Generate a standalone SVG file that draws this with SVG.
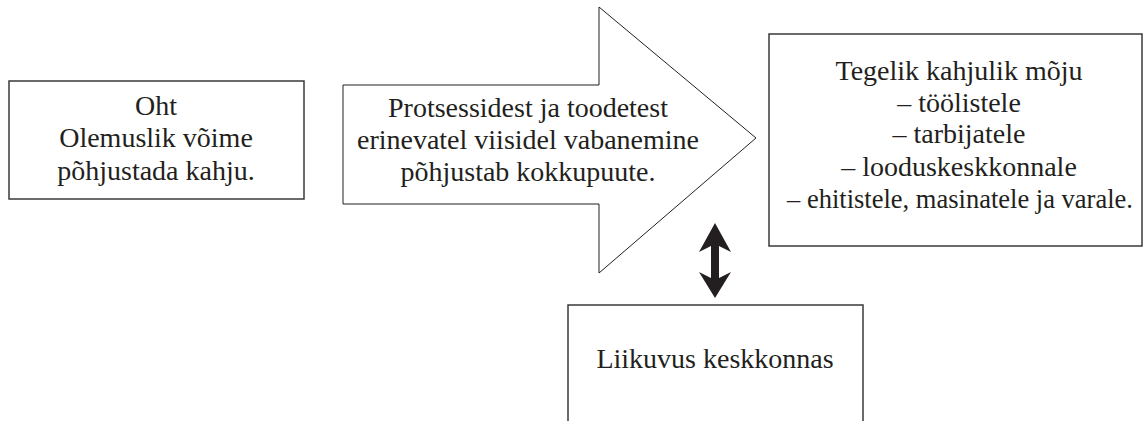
<svg xmlns="http://www.w3.org/2000/svg" width="1143" height="421" viewBox="0 0 1143 421">
<style>
.box{fill:#fff;stroke:#3a3a3a;stroke-width:1.5}
.arr{fill:#fff;stroke:#231f20;stroke-width:1}
.t{font-family:"Liberation Serif",serif;font-size:28px;fill:#231f20;text-anchor:middle}
.s{font-size:26.5px}
</style>
<rect width="1143" height="421" fill="#fff"/>
<g id="oht">
<rect class="box" x="9" y="81" width="295" height="118"/>
<text class="t" x="156" y="115">Oht</text>
<text class="t" x="156" y="147">Olemuslik võime</text>
<text class="t" x="156" y="180">põhjustada kahju.</text>
</g>
<g id="protsess">
<polygon class="arr" points="343,85 599,85 599,7 756,138 599,273 599,204 343,204"/>
<text class="t" x="528" y="117">Protsessidest ja toodetest</text>
<text class="t" x="528" y="149">erinevatel viisidel vabanemine</text>
<text class="t" x="528" y="181">põhjustab kokkupuute.</text>
</g>
<g id="moju">
<rect class="box" x="769" y="34" width="373" height="212"/>
<text class="t" x="959" y="80">Tegelik kahjulik mõju</text>
<text class="t" x="959" y="112">– töölistele</text>
<text class="t" x="959" y="143">– tarbijatele</text>
<text class="t" x="959" y="176">– looduskeskkonnale</text>
<text class="t s" x="960" y="208">– ehitistele, masinatele ja varale.</text>
</g>
<g id="liikuvus">
<rect class="box" x="568" y="305" width="295" height="130"/>
<text class="t" x="715" y="368">Liikuvus keskkonnas</text>
</g>
<g id="connectors">
<polygon fill="#231f20" points="715,223 731,252 719,246 719,278 731,272 715,298 699,272 711,278 711,246 699,252"/>
</g>
</svg>
